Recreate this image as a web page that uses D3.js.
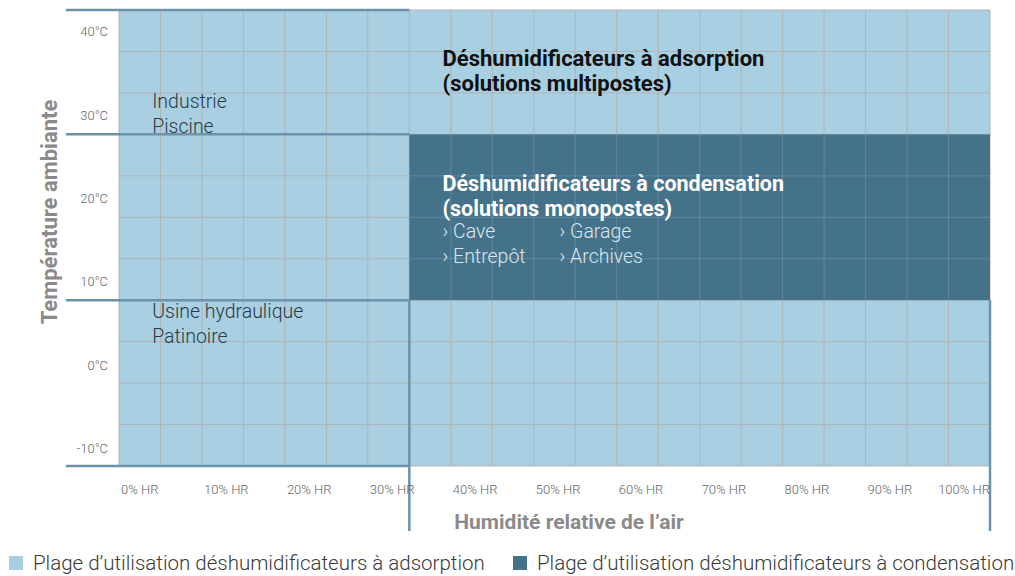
<!DOCTYPE html>
<html lang="fr">
<head>
  <meta charset="UTF-8">
  <title>Plage d'utilisation</title>
  <script src="https://cdn.jsdelivr.net/npm/d3@7"></script>
  <style>
    body { margin: 0; background: #fff; }
    text { font-family: Roboto, "Noto Sans", sans-serif; }
  </style>
</head>
<body>
<script>
  // valeurs
  var humidityTicks = [0, 10, 20, 30, 40, 50, 60, 70, 80, 90, 100];
  var tempTicks = [-10, 0, 10, 20, 30, 40];
  var humidityDomain = [0, 105];
  var tempDomain = [-12.5, 42.5];
  var adsorption = {h: [0, 105], t: [-12.5, 42.5]};
  var condensation = {h: [35, 105], t: [7.5, 27.5]};
  var tempBounds = [42.5, 27.5, 7.5, -12.5];
  var usageLabels = [
    {lines: ['Industrie', 'Piscine'], h: 4, t: 30.7},
    {lines: ['Usine hydraulique', 'Patinoire'], h: 4, t: 5.3}
  ];
  var legendItems = ['Plage d\u2019utilisation déshumidificateurs à adsorption',
                     'Plage d\u2019utilisation déshumidificateurs à condensation'];

  var W = 1015, H = 576;
  var light = '#a9cfe2', dark = '#45728b', lineCol = '#6b93aa';

  var svg = d3.select('body').append('svg').attr('width', W).attr('height', H);

  var x = d3.scaleLinear().domain(humidityDomain).range([119, 990]);
  var y = d3.scaleLinear().domain(tempDomain).range([466, 10]);

  // zone adsorption
  svg.append('rect')
    .attr('x', x(adsorption.h[0])).attr('y', y(adsorption.t[1]))
    .attr('width', x(adsorption.h[1]) - x(adsorption.h[0]))
    .attr('height', y(adsorption.t[0]) - y(adsorption.t[1]))
    .attr('fill', light);

  // grille
  var gridH = d3.range(humidityDomain[0], humidityDomain[1] + 0.1, 5);
  var gridT = d3.range(tempDomain[0], tempDomain[1] + 0.1, 5);
  svg.selectAll('.vg').data(gridH).enter().append('line')
    .attr('x1', function(d){ return x(d) }).attr('x2', function(d){ return x(d) })
    .attr('y1', y(tempDomain[1])).attr('y2', y(tempDomain[0]))
    .attr('stroke', '#b3b3b3').attr('stroke-width', 1);
  svg.selectAll('.hg').data(gridT).enter().append('line')
    .attr('y1', function(d){ return y(d) }).attr('y2', function(d){ return y(d) })
    .attr('x1', x(humidityDomain[0])).attr('x2', x(humidityDomain[1]))
    .attr('stroke', '#b3b3b3').attr('stroke-width', 1);

  // zone condensation
  svg.append('rect')
    .attr('x', x(condensation.h[0])).attr('y', y(condensation.t[1]))
    .attr('width', x(condensation.h[1]) - x(condensation.h[0]))
    .attr('height', y(condensation.t[0]) - y(condensation.t[1]))
    .attr('fill', dark);
  svg.selectAll('.vg2').data(gridH.filter(function(d){ return d > condensation.h[0] && d < condensation.h[1] }))
    .enter().append('line')
    .attr('x1', function(d){ return x(d) }).attr('x2', function(d){ return x(d) })
    .attr('y1', y(condensation.t[1])).attr('y2', y(condensation.t[0]))
    .attr('stroke', '#fff').attr('stroke-opacity', 0.15);
  svg.selectAll('.hg2').data(gridT.filter(function(d){ return d > condensation.t[0] && d < condensation.t[1] }))
    .enter().append('line')
    .attr('y1', function(d){ return y(d) }).attr('y2', function(d){ return y(d) })
    .attr('x1', x(condensation.h[0])).attr('x2', x(condensation.h[1]))
    .attr('stroke', '#fff').attr('stroke-opacity', 0.15);

  // traits de plages de température
  svg.selectAll('.tb').data(tempBounds).enter().append('line')
    .attr('x1', 66).attr('x2', x(condensation.h[0]))
    .attr('y1', function(d){ return y(d) }).attr('y2', function(d){ return y(d) })
    .attr('stroke', lineCol).attr('stroke-width', 2.5);
  // traits de plage d'humidité
  svg.selectAll('.hb').data(condensation.h).enter().append('line')
    .attr('x1', function(d){ return x(d) }).attr('x2', function(d){ return x(d) })
    .attr('y1', y(condensation.t[0])).attr('y2', 531)
    .attr('stroke', lineCol).attr('stroke-width', 2.5);

  // axes
  svg.selectAll('.yt').data(tempTicks).enter().append('text')
    .attr('x', 108).attr('y', function(d){ return y(d) + 8 - (d + 10) * 0.05 })
    .attr('text-anchor', 'end').attr('font-size', 13).attr('font-weight', 300)
    .attr('fill', '#666')
    .text(function(d){ return d + '°C' });
  svg.selectAll('.xt').data(humidityTicks).enter().append('text')
    .attr('x', function(d, i){ return i === humidityTicks.length - 1 ? x(humidityDomain[1]) : x(d) + 2 })
    .attr('y', 494)
    .attr('text-anchor', function(d, i){ return i === humidityTicks.length - 1 ? 'end' : 'start' })
    .attr('font-size', 13).attr('font-weight', 300).attr('fill', '#666')
    .text(function(d){ return d + '% HR' });

  svg.append('text')
    .attr('transform', 'translate(57,212) rotate(-90)')
    .attr('text-anchor', 'middle').attr('font-size', 22).attr('font-weight', 700)
    .attr('fill', '#8a8a8a').text('Température ambiante');
  svg.append('text')
    .attr('x', 569).attr('y', 529)
    .attr('text-anchor', 'middle').attr('font-size', 21).attr('font-weight', 700)
    .attr('fill', '#8a8a8a').text('Humidité relative de l\u2019air');

  // étiquettes de zones
  usageLabels.forEach(function(l){
    l.lines.forEach(function(s, i){
      svg.append('text')
        .attr('x', x(l.h)).attr('y', y(l.t) + i * 25)
        .attr('font-size', 19.5).attr('font-weight', 300).attr('fill', '#2c3a44')
        .text(s);
    });
  });

  var adsTitle = ['Déshumidificateurs à adsorption', '(solutions multipostes)'];
  adsTitle.forEach(function(s, i){
    svg.append('text')
      .attr('x', x(39)).attr('y', 66 + i * 25)
      .attr('font-size', 22).attr('font-weight', 700).attr('fill', '#111')
      .text(s);
  });
  var condTitle = ['Déshumidificateurs à condensation', '(solutions monopostes)'];
  condTitle.forEach(function(s, i){
    svg.append('text')
      .attr('x', x(39)).attr('y', 191 + i * 25)
      .attr('font-size', 21.5).attr('font-weight', 700).attr('fill', '#fff')
      .text(s);
  });
  var condItems = [['Cave', 'Garage'], ['Entrepôt', 'Archives']];
  condItems.forEach(function(row, i){
    row.forEach(function(s, j){
      svg.append('text')
        .attr('x', x(39) + j * 117).attr('y', 238 + i * 25)
        .attr('font-size', 19.5).attr('font-weight', 300).attr('fill', '#dce6ec')
        .text('\u203a ' + s);
    });
  });

  // légende
  var legX = [9, 513];
  legendItems.forEach(function(s, i){
    svg.append('rect').attr('x', legX[i]).attr('y', 556).attr('width', 14).attr('height', 14)
      .attr('fill', i === 0 ? light : dark);
    svg.append('text').attr('x', legX[i] + 24).attr('y', 570)
      .attr('font-size', 20.5).attr('font-weight', 300).attr('fill', '#3a3a3a')
      .text(s);
  });
</script>
</body>
</html>
